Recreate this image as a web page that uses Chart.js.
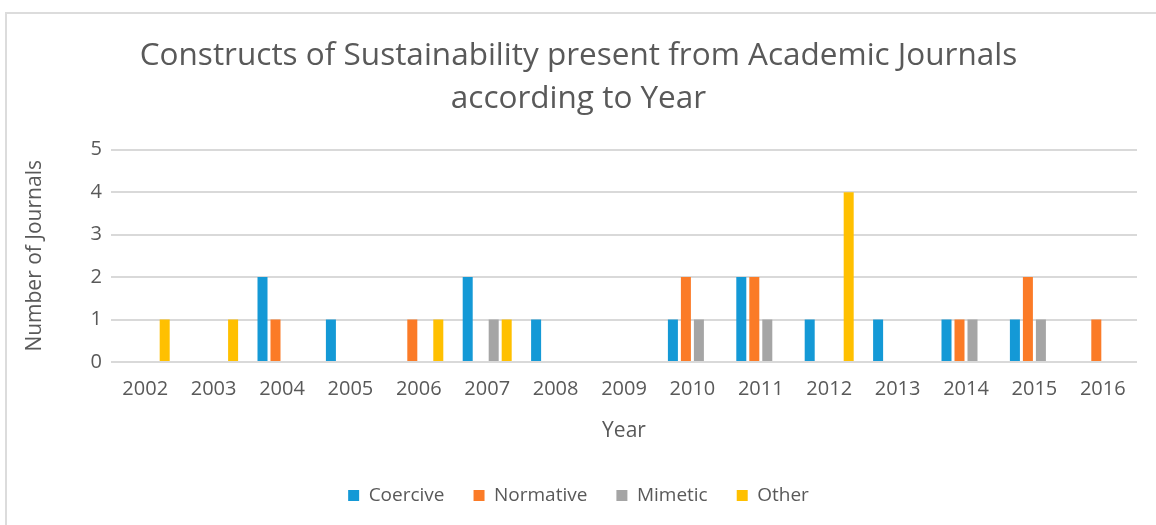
<!DOCTYPE html>
<html>
<head>
<meta charset="utf-8">
<script src="https://cdn.jsdelivr.net/npm/chart.js@4.4.1/dist/chart.umd.min.js"></script>
<style>
  html, body { margin: 0; padding: 0; background: #fff; }
  #wrap { position: relative; width: 1156px; height: 525px; }
  #frame { position: absolute; left: 5px; top: 12px; right: -4px; bottom: -4px; border-left: 2px solid #dcdcdc; border-top: 2px solid #dcdcdc; }
  canvas { position: absolute; left: 0; top: 0; }
</style>
</head>
<body>
<div id="wrap">
  <div id="frame"></div>
  <canvas id="chart" width="1156" height="525"></canvas>
</div>
<script>
const years = ['2002', '2003', '2004', '2005', '2006', '2007', '2008', '2009',
  '2010', '2011', '2012', '2013', '2014', '2015', '2016'];
const coercive  = [0, 0, 2, 1, 0, 2, 1, 0, 1, 2, 1, 1, 1, 1, 0];
const normative = [0, 0, 1, 0, 1, 0, 0, 0, 2, 2, 0, 0, 1, 2, 1];
const mimetic   = [0, 0, 0, 0, 0, 1, 0, 0, 1, 1, 0, 0, 1, 1, 0];
const other     = [1, 1, 0, 0, 1, 1, 0, 0, 0, 0, 4, 0, 0, 0, 0];
const yTicks = [0, 1, 2, 3, 4, 5];

const textColor = '#595959';
const fontFamily = '"Open Sans", sans-serif';

function series(label, data, color) {
  return {
    label,
    data,
    backgroundColor: color,
    borderWidth: 0,
    categoryPercentage: 0.76,
    barPercentage: 0.77
  };
}

new Chart(document.getElementById('chart'), {
  type: 'bar',
  data: {
    labels: years,
    datasets: [
      series('Coercive', coercive, '#1499d6'),
      series('Normative', normative, '#fb7b27'),
      series('Mimetic', mimetic, '#a5a5a5'),
      series('Other', other, '#ffc000')
    ]
  },
  options: {
    responsive: false,
    animation: false,
    layout: { padding: { left: 20, right: 19, top: 0, bottom: 10 } },
    plugins: {
      title: {
        display: true,
        text: ['Constructs of Sustainability present from Academic Journals', 'according to Year'],
        color: textColor,
        font: { family: fontFamily, size: 31.5, weight: 'normal', lineHeight: 1.36 },
        padding: { top: 35, bottom: 29 }
      },
      legend: {
        position: 'bottom',
        labels: {
          color: textColor,
          font: { family: fontFamily, size: 19 },
          boxWidth: 11,
          boxHeight: 11,
          padding: 29
        }
      },
      tooltip: { enabled: false }
    },
    scales: {
      x: {
        grid: { display: false, drawTicks: false },
        border: { display: false },
        ticks: { color: textColor, font: { family: fontFamily, size: 20 }, padding: 15, maxRotation: 0 },
        title: {
          display: true,
          text: 'Year',
          color: textColor,
          font: { family: fontFamily, size: 21 },
          padding: { top: 8, bottom: 13 }
        },
        afterFit: scale => { scale.height = 95; }
      },
      y: {
        min: 0,
        max: 5,
        afterBuildTicks: scale => { scale.ticks = yTicks.map(v => ({ value: v })); },
        grid: { color: '#d9d9d9', lineWidth: 2, drawTicks: false },
        border: { display: false },
        ticks: { color: textColor, font: { family: fontFamily, size: 20 }, padding: 9 },
        title: {
          display: true,
          text: 'Number of Journals',
          color: textColor,
          font: { family: fontFamily, size: 21 },
          padding: { top: 2, bottom: 8 }
        },
        afterFit: scale => { scale.width = 91; }
      }
    }
  }
});
</script>
</body>
</html>
